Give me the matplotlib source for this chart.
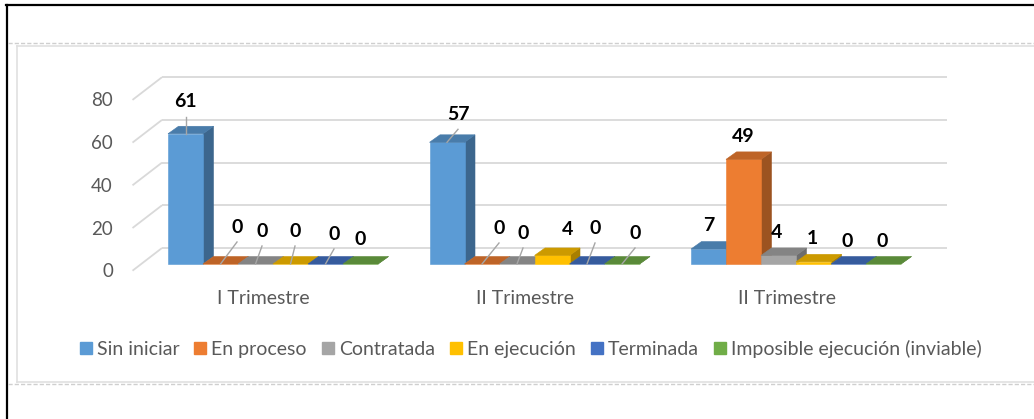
import matplotlib
matplotlib.use('Agg')
import matplotlib.pyplot as plt
from matplotlib.patches import Polygon
from matplotlib.lines import Line2D
import matplotlib.colors as mcolors

# ---------------- data ----------------
categories = ["I Trimestre", "II Trimestre", "II Trimestre"]
series_names = ["Sin iniciar", "En proceso", "Contratada", "En ejecución",
                "Terminada", "Imposible ejecución (inviable)"]
sin_iniciar = [61, 57, 7]
en_proceso = [0, 0, 49]
contratada = [0, 0, 4]
en_ejecucion = [0, 4, 1]
terminada = [0, 0, 0]
imposible = [0, 0, 0]
y_ticks = [0, 20, 40, 60, 80]

series_values = [sin_iniciar, en_proceso, contratada, en_ejecucion, terminada, imposible]
colors = ['#5B9BD5', '#ED7D31', '#A5A5A5', '#FFC000', '#4472C4', '#70AD47']

# label offsets (pixels, relative to the top-front centre of each bar) and leader flags
label_offsets = [
    [(0, 32), (16.5, 37), (6.5, 33), (4.5, 33), (8.5, 30), (0, 25)],
    [(11, 28), (17, 36), (6, 31), (16, 25.5), (8, 36), (13, 31)],
    [(0, 24), (0, 23), (-1.5, 22.5), (-1.5, 23), (-1.5, 23), (-1.5, 23)],
]
leaders = [
    [True, True, True, True, True, False],
    [True, True, True, False, True, True],
    [False] * 6,
]

FONT = 'Lato'
TXT = '#595959'

W, H = 1034, 419
fig = plt.figure(figsize=(W / 100, H / 100), dpi=100)
ax = fig.add_axes([0, 0, 1, 1])
ax.axis('off')

PXX, PXY = 261.5, 2.135     # pixels per category unit / per value unit
X0, Y0 = 273, 264           # pixel position of category 0 centre / value 0 (front)
ax.set_xlim(-X0 / PXX, (W - X0) / PXX)
ax.set_ylim((Y0 - H) / PXY, Y0 / PXY)


def px(d):
    return d / PXX


def py(d):
    return d / PXY


def shade(c, f):
    return tuple(v * f for v in mcolors.to_rgb(c))


GRID = '#d9d9d9'
# back wall + left wall gridlines
wall_l, wall_r = px(162 - X0), px(947 - X0)
front_l = px(132.5 - X0)
back_dy = py(16)
front_dy = py(-6.7)
for v in y_ticks:
    ax.plot([wall_l, wall_r], [v + back_dy, v + back_dy], color=GRID, lw=1.3, zorder=1,
            solid_capstyle='butt')
    ax.plot([front_l, wall_l], [v + front_dy, v + back_dy], color=GRID, lw=1.3, zorder=1,
            solid_capstyle='butt')
    ax.text(px(113 - X0), v - py(7.7), f"{v}", ha='right', va='center', fontsize=13.5,
            color=TXT, family=FONT)

# bars
n = len(series_values)
bw = px(35)
ddx, ddy = px(10.5), py(7.5)
for g in range(len(categories)):
    for j in range(n):
        v = series_values[j][g]
        L = g + (j - n / 2) * bw
        c = colors[j]
        z = 3 + g * 10 + j
        front = [(L, 0), (L + bw, 0), (L + bw, v), (L, v)]
        top = [(L, v), (L + bw, v), (L + bw + ddx, v + ddy), (L + ddx, v + ddy)]
        side = [(L + bw, 0), (L + bw + ddx, ddy), (L + bw + ddx, v + ddy), (L + bw, v)]
        for poly, col in ((side, shade(c, 0.66)), (front, c), (top, shade(c, 0.8))):
            ax.add_patch(Polygon(poly, closed=True, facecolor=col, edgecolor=col,
                                 lw=0.4, zorder=z))
        cx = L + bw / 2
        ox, oy = label_offsets[g][j]
        lx, ly = cx + px(ox), v + py(oy)
        ax.text(lx, ly, f"{v}", ha='center', va='center', fontsize=14, fontweight='bold',
                color='black', family=FONT, zorder=50)
        if leaders[g][j]:
            ax.plot([lx, cx], [ly - py(15), v], color='#a6a6a6', lw=1.0, zorder=49)

# category labels
for g, name in enumerate(categories):
    ax.text(g - px(9.5), py(-34), name, ha='center', va='center', fontsize=14,
            color=TXT, family=FONT)

# legend
handles = [Line2D([], [], marker='s', linestyle='none', markersize=8,
                  markerfacecolor=c, markeredgecolor=c) for c in colors]
fig.legend(handles, series_names, loc='center', bbox_to_anchor=(531 / W, 1 - 349 / H),
           ncol=6, frameon=False, handlelength=0.55, handletextpad=0.3,
           columnspacing=0.8, prop={'family': FONT, 'size': 14}, labelcolor=TXT,
           borderaxespad=0, borderpad=0)

# page decorations (document frame)


def fline(xs, ys, **kw):
    fig.add_artist(Line2D([x / W for x in xs], [1 - y / H for y in ys],
                          transform=fig.transFigure, **kw))


fline([6, W], [5.5, 5.5], color='black', lw=1.6)
fline([7, 7], [5, H], color='black', lw=1.6)
fline([8, W], [43.5, 43.5], color='#cfcfcf', lw=1.0, linestyle=(0, (3, 1.5)))
fline([8, W], [383.5, 383.5], color='#cfcfcf', lw=1.0, linestyle=(0, (3, 1.5)))
fline([17, W], [46, 46], color='#e0e0e0', lw=1.2)
fline([17, W], [381.5, 381.5], color='#e0e0e0', lw=1.2)
fline([17, 17], [46, 381.5], color='#e0e0e0', lw=1.2)

fig.savefig('out.png', dpi=100)
